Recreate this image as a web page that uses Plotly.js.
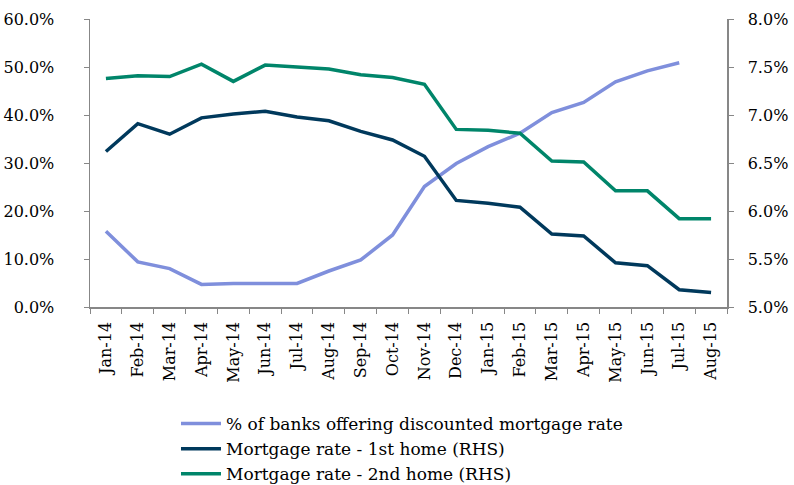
<!DOCTYPE html>
<html>
<head>
<meta charset="utf-8">
<script src="https://cdn.plot.ly/plotly-3.0.1.min.js"></script>
<style>html,body{margin:0;padding:0;background:#fff;}#chart{width:794px;height:485px;}</style>
</head>
<body>
<div id="chart"></div>
<script>
var months = ["Jan-14","Feb-14","Mar-14","Apr-14","May-14","Jun-14","Jul-14","Aug-14","Sep-14","Oct-14","Nov-14","Dec-14","Jan-15","Feb-15","Mar-15","Apr-15","May-15","Jun-15","Jul-15","Aug-15"];
var banksDiscount = [15.8, 9.4, 8.0, 4.7, 4.9, 4.9, 4.9, 7.5, 9.8, 15.0, 25.1, 29.9, 33.4, 36.2, 40.5, 42.6, 46.9, 49.2, 50.9, null];
var rateFirstHome = [6.62, 6.91, 6.80, 6.97, 7.01, 7.04, 6.98, 6.94, 6.83, 6.74, 6.57, 6.11, 6.08, 6.04, 5.76, 5.74, 5.46, 5.43, 5.18, 5.15];
var rateSecondHome = [7.38, 7.41, 7.40, 7.53, 7.35, 7.52, 7.50, 7.48, 7.42, 7.39, 7.32, 6.85, 6.84, 6.81, 6.52, 6.51, 6.21, 6.21, 5.92, 5.92];
var leftTicks = [0, 10, 20, 30, 40, 50, 60];
var rightTicks = [5.0, 5.5, 6.0, 6.5, 7.0, 7.5, 8.0];

var font = "DejaVu Serif, Liberation Serif, serif";
var traces = [
  {x: months, y: banksDiscount, name: "% of banks offering discounted mortgage rate", type: "scatter", mode: "lines", line: {color: "#7F8FDC", width: 3.5}, yaxis: "y"},
  {x: months, y: rateFirstHome, name: "Mortgage rate - 1st home (RHS)", type: "scatter", mode: "lines", line: {color: "#00395C", width: 3.5}, yaxis: "y2"},
  {x: months, y: rateSecondHome, name: "Mortgage rate - 2nd home (RHS)", type: "scatter", mode: "lines", line: {color: "#00856A", width: 3.5}, yaxis: "y2"}
];
var axisCommon = {automargin: false, showgrid: false, zeroline: false, showline: true, linecolor: "#878787", linewidth: 1.5, ticks: "outside", ticklen: 5, tickcolor: "#878787", tickfont: {family: font, size: 16, color: "#000"}};
var layout = {
  width: 794, height: 485,
  margin: {l: 90, r: 67, t: 19, b: 178, autoexpand: false},
  paper_bgcolor: "#fff", plot_bgcolor: "#fff",
  font: {family: font, size: 17, color: "#000"},
  showlegend: true,
  legend: {orientation: "v", x: 0.135, y: -0.344, xanchor: "left", yanchor: "top", font: {family: font, size: 17, color: "#000"}, tracegroupgap: 0, itemwidth: 40},
  xaxis: Object.assign({}, axisCommon, {type: "category", tickangle: -90, tickson: "boundaries", range: [-0.5, 19.5], ticklabelstandoff: 7}),
  yaxis: Object.assign({}, axisCommon, {range: [0, 60], tickvals: leftTicks, ticktext: leftTicks.map(function(v){return v.toFixed(1)+"%";}), ticklabelstandoff: 26}),
  yaxis2: Object.assign({}, axisCommon, {overlaying: "y", side: "right", range: [5, 8], tickvals: rightTicks, ticktext: rightTicks.map(function(v){return v.toFixed(1)+"%";}), ticklabelstandoff: 11})
};
Plotly.newPlot("chart", traces, layout, {displayModeBar: false, staticPlot: true});
</script>
</body>
</html>
